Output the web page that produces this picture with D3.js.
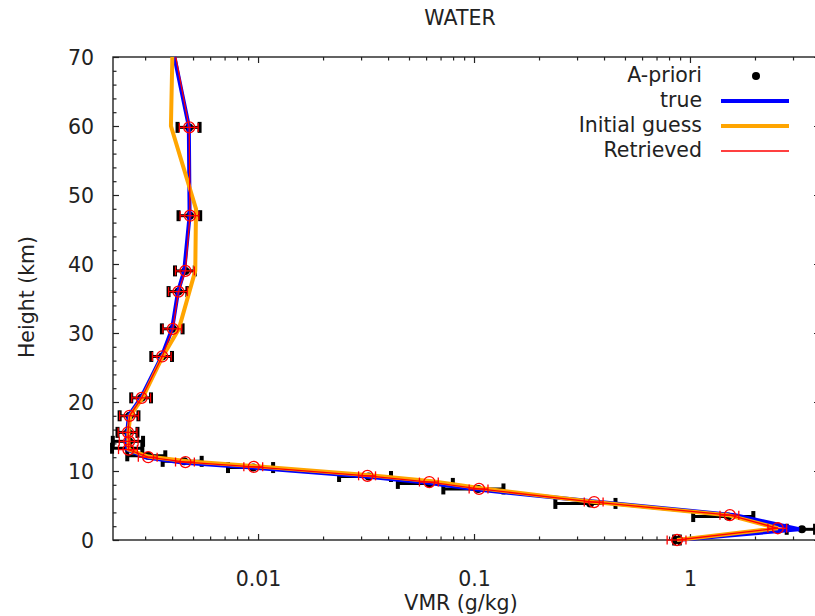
<!DOCTYPE html>
<html><head><meta charset="utf-8">
<script src="https://cdn.jsdelivr.net/npm/d3@7"></script>
<style>
body{margin:0;background:#fff;}
svg{display:block;font-family:"DejaVu Sans",sans-serif;}
</style></head>
<body><svg id="c" width="815" height="616"></svg>
<script>
// ---------- data ----------
const title = "WATER";
const xLabel = "VMR (g/kg)";
const yLabel = "Height (km)";
const xMajorTicks = [0.01, 0.1, 1];
const xTickLabels = ["0.01", "0.1", "1"];
const yMajorTicks = [0, 10, 20, 30, 40, 50, 60, 70];
const legendLabels = ["A-priori", "true", "Initial guess", "Retrieved"];

// retrieval / a-priori levels (km)
const levels      = [0, 1.7, 3.6, 5.5, 7.4, 8.4, 9.3, 10.6, 11.3, 12.0, 13.1, 14.3, 15.6, 18.0, 20.6, 26.6, 30.6, 36.0, 39.0, 47.0, 59.8];
const retrieved   = [0.871, 2.55, 1.53, 0.360, 0.1055, 0.0621, 0.0321, 0.00955, 0.00461, 0.00310, 0.00251, 0.00253, 0.00250, 0.00254, 0.00289, 0.00360, 0.00403, 0.00428, 0.00461, 0.00484, 0.00480];
const retrievedErr = [0.1, 0.1, 0.1, 0.1, 0.1, 0.1, 0.09, 0.1, 0.1, 0.1, 0.1, 0.1, 0.1, 0.1, 0.1, 0.1, 0.1, 0.1, 0.1, 0.1, 0.1];
const retrievedTopH = 70, retrievedTopV = 0.00416;
const apriori     = [0.871, 3.3, 1.50, 0.345, 0.1045, 0.0621, 0.0325, 0.0095, 0.00455, 0.00310, 0.00251, 0.00253, 0.00250, 0.00254, 0.00289, 0.00360, 0.00403, 0.00428, 0.00461, 0.00484, 0.00480];
const aprioriHeights = [0, 1.55, 3.4, 5.3, 7.4, 8.2, 9.2, 10.5, 11.4, 12.2, 13.3, 14.3, 15.6, 18.0, 20.6, 26.6, 30.6, 36.0, 39.0, 47.0, 59.8];
const aprioriErr  = [0.03, 0.15, 0.31, 0.31, 0.31, 0.285, 0.27, 0.236, 0.205, 0.2, 0.16, 0.16, 0.106, 0.10, 0.105, 0.11, 0.11, 0.10, 0.105, 0.115, 0.117];

// true profile
const trueHeights = [0, 1.55, 3.6, 5.5, 7.3, 8.3, 9.2, 10.5, 11.2, 12.0, 13.1, 14.3, 15.6, 18.0, 20.6, 26.6, 30.6, 36.0, 39.0, 47.0, 60.0, 70];
const trueValues  = [0.871, 3.2, 1.62, 0.38, 0.104, 0.061, 0.0316, 0.0094, 0.00455, 0.00300, 0.00248, 0.00246, 0.00248, 0.00252, 0.00287, 0.00358, 0.00400, 0.00426, 0.00455, 0.00482, 0.00478, 0.00410];

// initial guess profile
const guessHeights = [0, 1.7, 3.6, 5.5, 7.5, 8.5, 9.4, 10.7, 11.4, 12.1, 13.1, 14.3, 15.6, 18.0, 20.6, 26.6, 30.6, 39.0, 48.0, 60.0, 70];
const guessValues  = [0.871, 2.55, 1.50, 0.36, 0.108, 0.064, 0.033, 0.0098, 0.0047, 0.0031, 0.00252, 0.00251, 0.00251, 0.00256, 0.00292, 0.00362, 0.00430, 0.00512, 0.00516, 0.00395, 0.00401];

// ---------- chart ----------
const svg = d3.select("#c");
const m = {left: 113, right: 820, top: 57, bottom: 540};
const x = d3.scaleLog().domain([0.00213, 4]).range([m.left, m.right]);
const y = d3.scaleLinear().domain([0, 70]).range([m.bottom, m.top]);
const ink = "#222";
const fs = 20.5;

// minor ticks
const xMinor = [];
for (let e = -3; e <= 0; e++) for (let k = 2; k <= 9; k++) {
  const v = k * Math.pow(10, e);
  if (v > x.domain()[0] && v < x.domain()[1]) xMinor.push(v);
}
const yMinor = d3.range(0, 71, 2).filter(v => v % 10 !== 0);

function styleAxis(g){ g.select(".domain").remove(); g.selectAll(".tick line").attr("stroke", ink).attr("stroke-width", 1.2); }

// bottom
svg.append("g").attr("transform", `translate(0,${m.bottom})`)
  .call(d3.axisBottom(x).tickValues(xMajorTicks).tickSize(-6).tickPadding(31)
    .tickFormat((d,i) => xTickLabels[i]))
  .call(styleAxis)
  .call(g => g.selectAll("text").attr("font-size", fs).attr("fill", ink).attr("font-family", "DejaVu Sans"));
svg.append("g").attr("transform", `translate(0,${m.bottom})`)
  .call(d3.axisBottom(x).tickValues(xMinor).tickSize(-3.5).tickFormat(""))
  .call(styleAxis);
// top
svg.append("g").attr("transform", `translate(0,${m.top})`)
  .call(d3.axisTop(x).tickValues(xMajorTicks).tickSize(-6).tickFormat(""))
  .call(styleAxis);
svg.append("g").attr("transform", `translate(0,${m.top})`)
  .call(d3.axisTop(x).tickValues(xMinor).tickSize(-3.5).tickFormat(""))
  .call(styleAxis);
// left
svg.append("g").attr("transform", `translate(${m.left},0)`)
  .call(d3.axisLeft(y).tickValues(yMajorTicks).tickSize(-6).tickPadding(19).tickFormat(d3.format("d")))
  .call(styleAxis)
  .call(g => g.selectAll("text").attr("font-size", fs).attr("fill", ink).attr("font-family", "DejaVu Sans").attr("dy", "0.36em"));
svg.append("g").attr("transform", `translate(${m.left},0)`)
  .call(d3.axisLeft(y).tickValues(yMinor).tickSize(-3.5).tickFormat(""))
  .call(styleAxis);
// right
svg.append("g").attr("transform", `translate(${m.right},0)`)
  .call(d3.axisRight(y).tickValues(yMajorTicks).tickSize(-6).tickFormat(""))
  .call(styleAxis);
svg.append("g").attr("transform", `translate(${m.right},0)`)
  .call(d3.axisRight(y).tickValues(yMinor).tickSize(-3.5).tickFormat(""))
  .call(styleAxis);

// border
svg.append("rect").attr("x", m.left).attr("y", m.top)
  .attr("width", m.right - m.left).attr("height", m.bottom - m.top)
  .attr("fill", "none").attr("stroke", ink).attr("stroke-width", 1.4);

// titles
svg.append("text").attr("x", 460).attr("y", 25).attr("text-anchor", "middle")
  .attr("font-size", fs).attr("fill", ink).text(title);
svg.append("text").attr("x", 461).attr("y", 610).attr("text-anchor", "middle")
  .attr("font-size", fs).attr("fill", ink).text(xLabel);
svg.append("text").attr("transform", `translate(34,297) rotate(-90)`).attr("text-anchor", "middle")
  .attr("font-size", fs).attr("fill", ink).text(yLabel);

const plot = svg.append("g");

// a-priori error bars and dots
const ap = levels.map((h,i) => ({h: aprioriHeights[i], v: apriori[i], e: aprioriErr[i]}));
const apG = plot.append("g");
ap.forEach(d => {
  const x0 = x(d.v * (1 - d.e)), x1 = x(d.v * (1 + d.e)), yy = y(d.h);
  apG.append("line").attr("x1", x0).attr("x2", x1).attr("y1", yy).attr("y2", yy)
    .attr("stroke", "#000").attr("stroke-width", 3);
  [x0, x1].forEach(xx => apG.append("line").attr("x1", xx).attr("x2", xx)
    .attr("y1", yy - 5.5).attr("y2", yy + 5.5).attr("stroke", "#000").attr("stroke-width", 4));
  apG.append("circle").attr("cx", x(d.v)).attr("cy", yy).attr("r", 4).attr("fill", "#000");
});

const line = d3.line().x(d => x(d.v)).y(d => y(d.h));

// true
plot.append("path").datum(trueHeights.map((h,i) => ({h, v: trueValues[i]})))
  .attr("d", line).attr("fill", "none").attr("stroke", "#0000ff").attr("stroke-width", 4)
  .attr("stroke-linejoin", "miter");
// initial guess
plot.append("path").datum(guessHeights.map((h,i) => ({h, v: guessValues[i]})))
  .attr("d", line).attr("fill", "none").attr("stroke", "#ffa500").attr("stroke-width", 4)
  .attr("stroke-linejoin", "miter");
// retrieved
const ret = levels.map((h,i) => ({h, v: retrieved[i], e: retrievedErr[i]}));
plot.append("path").datum(ret.concat([{h: retrievedTopH, v: retrievedTopV}]))
  .attr("d", line).attr("fill", "none").attr("stroke", "#ff0000").attr("stroke-width", 1.3);
const rG = plot.append("g");
ret.forEach(d => {
  const x0 = x(d.v * (1 - d.e)), x1 = x(d.v * (1 + d.e)), yy = y(d.h);
  rG.append("line").attr("x1", x0).attr("x2", x1).attr("y1", yy).attr("y2", yy)
    .attr("stroke", "#ff0000").attr("stroke-width", 1.3);
  [x0, x1].forEach(xx => rG.append("line").attr("x1", xx).attr("x2", xx)
    .attr("y1", yy - 4.5).attr("y2", yy + 4.5).attr("stroke", "#ff0000").attr("stroke-width", 1.3));
  rG.append("circle").attr("cx", x(d.v)).attr("cy", yy).attr("r", 5.5)
    .attr("fill", "none").attr("stroke", "#ff0000").attr("stroke-width", 1.3);
});

// legend
const lg = svg.append("g");
const rowY = [76, 101, 126, 151];
legendLabels.forEach((t,i) => {
  lg.append("text").attr("x", 702).attr("y", rowY[i] + 6).attr("text-anchor", "end")
    .attr("font-size", fs).attr("fill", ink).text(t);
});
lg.append("circle").attr("cx", 756).attr("cy", rowY[0]).attr("r", 4).attr("fill", "#000");
lg.append("line").attr("x1", 721).attr("x2", 789).attr("y1", rowY[1]).attr("y2", rowY[1])
  .attr("stroke", "#0000ff").attr("stroke-width", 4);
lg.append("line").attr("x1", 721).attr("x2", 789).attr("y1", rowY[2]).attr("y2", rowY[2])
  .attr("stroke", "#ffa500").attr("stroke-width", 4);
lg.append("line").attr("x1", 721).attr("x2", 789).attr("y1", rowY[3]).attr("y2", rowY[3])
  .attr("stroke", "#ff0000").attr("stroke-width", 1.3);
</script></body></html>
